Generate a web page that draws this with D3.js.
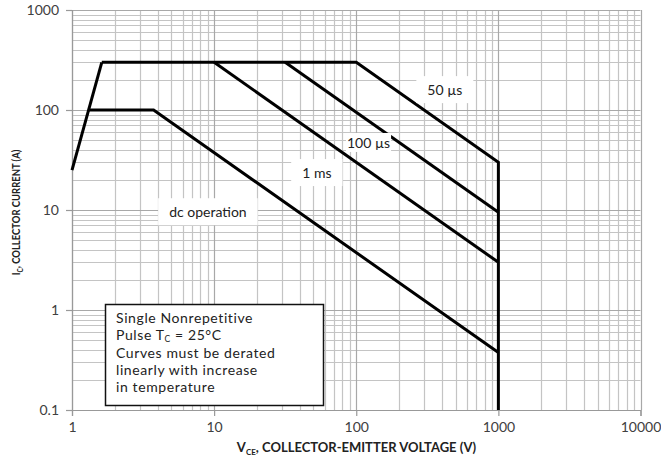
<!DOCTYPE html>
<html><head><meta charset="utf-8">
<script src="https://cdn.jsdelivr.net/npm/d3@7"></script>
<style>body{margin:0;background:#fff}svg{display:block}</style>
</head><body>
<svg id="c" width="661" height="458"></svg>
<script>
// ---- data ----
const xTicks = [1, 10, 100, 1000, 10000];
const yTicks = [0.1, 1, 10, 100, 1000];
const rampV = [1, 1.62];          const rampI = [25, 300];
const dcV = [1.3, 3.75, 1000];    const dcI = [100, 100, 0.375];
const ms1V = [10, 1000];          const ms1I = [300, 3];
const us100V = [31.6, 1000];      const us100I = [300, 9.5];
const us50V = [1.62, 100, 1000, 1000]; const us50I = [300, 300, 30, 0.1];
const labelText = ["50 µs", "100 µs", "1 ms", "dc operation"];
const labelV = [420, 122, 52.8, 9.04];
const labelI = [158, 46.8, 23.4, 9.5];
const noteLines = ["Single Nonrepetitive", "Pulse T|C| = 25°C", "Curves must be derated", "linearly with increase", "in temperature"];

// ---- drawing ----
const svg = d3.select("#c");
const m = {l: 72, t: 10, r: 661 - 640.5, b: 458 - 410};
const W = 661 - m.l - m.r, H = 458 - m.t - m.b;
const x = d3.scaleLog().domain([1, 10000]).range([m.l, m.l + W]);
const y = d3.scaleLog().domain([0.1, 1000]).range([m.t + H, m.t]);
const font = "Lato, 'Open Sans', sans-serif";

// minor / major grid values
const minorX = [], minorY = [];
for (let d = 1; d < 10000; d *= 10) for (let k = 2; k <= 9; k++) minorX.push(d * k);
for (let d = 0.1; d < 999; d *= 10) for (let k = 2; k <= 9; k++) minorY.push(d * k);

const g = svg.append("g");
g.selectAll(".mx").data(minorX).join("line")
  .attr("x1", d => Math.round(x(d)) + 0.5).attr("x2", d => Math.round(x(d)) + 0.5)
  .attr("y1", y(0.1)).attr("y2", y(1000)).attr("stroke", "#c4c4c4").attr("stroke-width", 1.2);
g.selectAll(".my").data(minorY).join("line")
  .attr("y1", d => Math.round(y(d)) + 0.5).attr("y2", d => Math.round(y(d)) + 0.5)
  .attr("x1", x(1)).attr("x2", x(10000)).attr("stroke", "#c4c4c4").attr("stroke-width", 1.2);
g.selectAll(".Mx").data(xTicks).join("line")
  .attr("x1", d => Math.round(x(d)) + 0.5).attr("x2", d => Math.round(x(d)) + 0.5)
  .attr("y1", y(0.1)).attr("y2", y(1000)).attr("stroke", "#a8a8a8").attr("stroke-width", 1.2);
g.selectAll(".My").data(yTicks).join("line")
  .attr("y1", d => Math.round(y(d)) + 0.5).attr("y2", d => Math.round(y(d)) + 0.5)
  .attr("x1", x(1)).attr("x2", x(10000)).attr("stroke", "#a8a8a8").attr("stroke-width", 1.2);

// axes
const xAxis = d3.axisBottom(x).tickValues(xTicks).tickFormat(d3.format("d")).tickSize(6).tickPadding(6);
const yAxis = d3.axisLeft(y).tickValues(yTicks).tickFormat(d => d < 1 ? "0.1" : d3.format("d")(d)).tickSize(6).tickPadding(7);
const gx = svg.append("g").attr("transform", `translate(0,${y(0.1)})`).call(xAxis);
const gy = svg.append("g").attr("transform", `translate(${x(1)},0)`).call(yAxis);
[gx, gy].forEach(a => {
  a.selectAll("path,line").attr("stroke", "#999").attr("stroke-width", 1.2);
  a.selectAll("text").attr("font-family", font).attr("font-size", 14).attr("fill", "#404040");
});

// curves
const line = d3.line().x(d => x(d[0])).y(d => y(d[1]));
const series = [[rampV, rampI], [dcV, dcI], [ms1V, ms1I], [us100V, us100I], [us50V, us50I]];
svg.append("g").selectAll("path").data(series).join("path")
  .attr("d", s => line(d3.zip(s[0], s[1])))
  .attr("fill", "none").attr("stroke", "#000").attr("stroke-width", 3).attr("stroke-linejoin", "miter");

// curve labels with white boxes
const lg = svg.append("g");
labelText.forEach((t, i) => {
  const gg = lg.append("g");
  const tx = gg.append("text").attr("x", x(labelV[i])).attr("y", y(labelI[i]) + 5)
    .attr("text-anchor", "middle").attr("font-family", font).attr("font-size", 14)
    .attr("fill", "#222").text(t);
  const b = tx.node().getBBox();
  const px = i === 1 ? 1 : 11, py = i === 1 ? 1 : 5;
  gg.insert("rect", "text").attr("x", b.x - px).attr("y", b.y - py)
    .attr("width", b.width + 2 * px).attr("height", b.height + 2 * py).attr("fill", "#fff");
});

// note box
svg.append("rect").attr("x", 105.5).attr("y", 304.5).attr("width", 218).attr("height", 101)
  .attr("fill", "#fff").attr("stroke", "#111").attr("stroke-width", 1.5);
noteLines.forEach((s, i) => {
  const parts = s.split("|");
  const base = 323 + i * 17 + (i === 1 ? -0.5 : 0) + (i >= 2 ? 0.5 : 0);
  const nt = svg.append("text").attr("font-family", font).attr("font-size", 14).attr("fill", "#222")
    .attr("letter-spacing", 0.6).attr("x", 116).attr("y", base);
  nt.append("tspan").text(parts[0]);
  if (parts.length > 1) {
    nt.append("tspan").attr("dy", 2).attr("font-size", 8.5).text(parts[1]);
    nt.append("tspan").attr("dy", -2).text(parts[2]);
  }
});

// axis titles
const xt = svg.append("text").attr("x", (233 + 480) / 2).attr("y", 452).attr("text-anchor", "middle")
  .attr("font-family", font).attr("font-weight", "bold").attr("font-size", 13).attr("fill", "#222");
xt.append("tspan").text("V");
xt.append("tspan").attr("font-size", 8).attr("dy", 3).text("CE");
xt.append("tspan").attr("dy", -3).text(", COLLECTOR-EMITTER VOLTAGE (V)");

const yt = svg.append("text").attr("transform", `translate(20,${(138 + 287) / 2}) rotate(-90) scale(0.86,1)`).attr("text-anchor", "middle")
  .attr("font-family", font).attr("font-weight", "bold").attr("font-size", 11).attr("fill", "#222");
yt.append("tspan").text("I");
yt.append("tspan").attr("font-size", 7.5).attr("dy", 3).text("C");
yt.append("tspan").attr("dy", -3).text(", COLLECTOR CURRENT (A)");
</script>
</body></html>
